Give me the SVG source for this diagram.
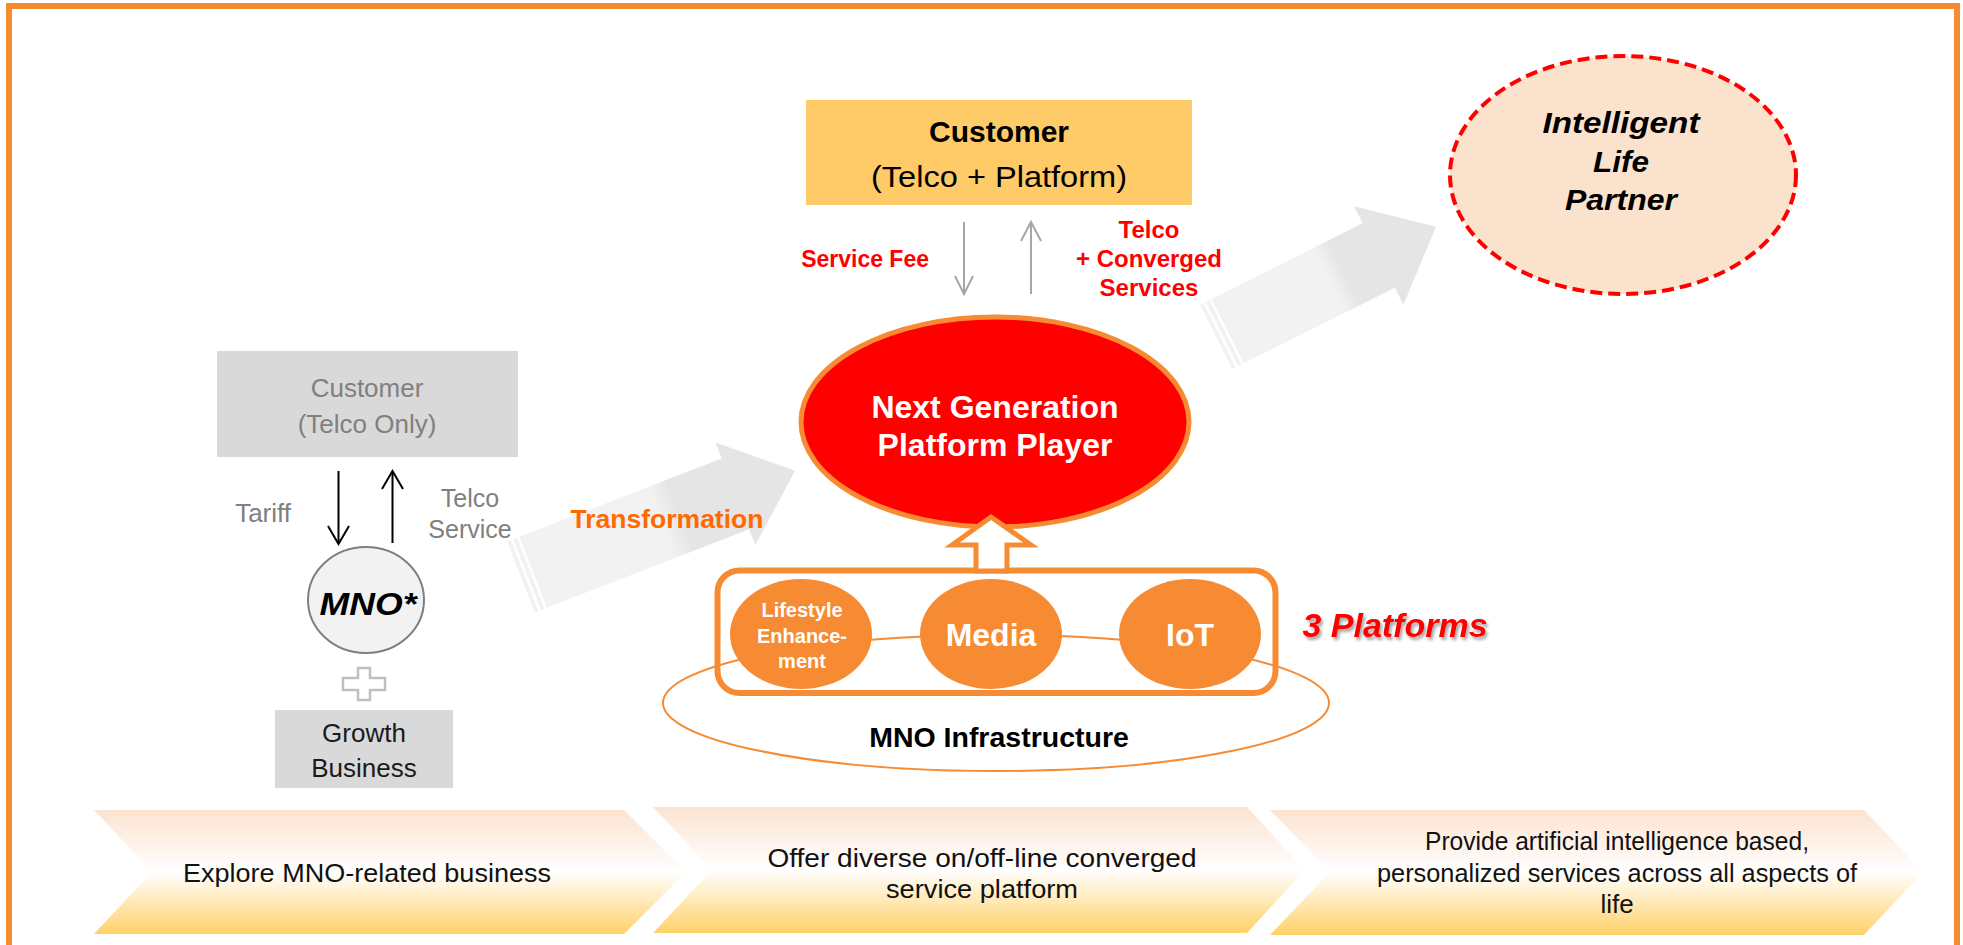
<svg xmlns="http://www.w3.org/2000/svg" width="1963" height="945" viewBox="0 0 1963 945">
<defs>
<style>
text{font-family:'Liberation Sans',Arial,sans-serif;}
.b{font-weight:bold}
.i{font-style:italic}
.red{fill:#FF0000}
.gray{fill:#808080}
.wht{fill:#FFFFFF}
.mid{text-anchor:middle}
.end{text-anchor:end}
.plat{fill:#F68B33}
.box{fill:#D9D9D9}
.chev{fill:url(#chevGrad)}
.ct{fill:#111111;font-size:26px;text-anchor:middle}
.stripe{fill:#F2F2F2}
.thin{fill:none;stroke:#A6A6A6;stroke-width:2}
.blk{fill:none;stroke:#000000;stroke-width:2}
</style>
<linearGradient id="arrowGrad" x1="0" y1="0" x2="1" y2="0">
<stop offset="0" stop-color="#F2F2F2"/>
<stop offset="0.49" stop-color="#F2F2F2"/>
<stop offset="0.56" stop-color="#E5E5E5"/>
<stop offset="1" stop-color="#E5E5E5"/>
</linearGradient>
<linearGradient id="chevGrad" x1="0" y1="0" x2="0" y2="1">
<stop offset="0" stop-color="#FCE3D0"/>
<stop offset="0.5" stop-color="#FFFFFF"/>
<stop offset="1" stop-color="#FFD169"/>
</linearGradient>
<filter id="shadow" x="-10%" y="-30%" width="130%" height="170%">
<feDropShadow dx="2" dy="3" stdDeviation="1.5" flood-color="#000000" flood-opacity="0.35"/>
</filter>
</defs>
<rect x="0" y="0" width="1963" height="945" fill="#FFFFFF"/>
<rect id="frame" x="9" y="6" width="1948" height="1000" fill="none" stroke="#F68B33" stroke-width="6"/>

<g id="customer-platform">
<rect x="806" y="100" width="386" height="105" fill="#FFCA68"/>
<text x="999" y="142" class="b mid" font-size="30">Customer</text>
<text x="999" y="187" class="mid" font-size="30" textLength="256" lengthAdjust="spacingAndGlyphs">(Telco + Platform)</text>
</g>

<g id="intelligent-life-partner">
<ellipse cx="1623" cy="175" rx="173" ry="119" fill="#FBE2CC" stroke="#FF0000" stroke-width="4" stroke-dasharray="12 6"/>
<text x="1621" y="133" class="b i mid" font-size="30" textLength="157" lengthAdjust="spacingAndGlyphs">Intelligent</text>
<text x="1621" y="172" class="b i mid" font-size="30" textLength="56" lengthAdjust="spacingAndGlyphs">Life</text>
<text x="1621" y="210" class="b i mid" font-size="30" textLength="112" lengthAdjust="spacingAndGlyphs">Partner</text>
</g>

<g id="next-gen-player">
<ellipse cx="995" cy="422" rx="194" ry="105" fill="#FF0000" stroke="#F68B33" stroke-width="5"/>
<text x="995" y="418" class="b mid wht" font-size="32">Next Generation</text>
<text x="995" y="456" class="b mid wht" font-size="32">Platform Player</text>
</g>

<g id="customer-telco-only">
<rect x="217" y="351" width="301" height="106" class="box"/>
<text x="367" y="397" class="mid gray" font-size="26">Customer</text>
<text x="367" y="433" class="mid gray" font-size="26">(Telco Only)</text>
</g>

<g id="mno">
<ellipse cx="366" cy="600" rx="58" ry="53" fill="#F2F2F2" stroke="#7F7F7F" stroke-width="2"/>
<text x="368" y="615" class="b i mid" font-size="31" textLength="97" lengthAdjust="spacingAndGlyphs">MNO*</text>
</g>

<g id="plus">
<path d="M358,668 H370 V678 H385 V690 H370 V700 H358 V690 H343 V678 H358 Z" fill="#FFFFFF" stroke="#BFBFBF" stroke-width="2.5"/>
</g>

<g id="growth-business">
<rect x="275" y="710" width="178" height="78" class="box"/>
<text x="364" y="742" class="mid" font-size="26" fill="#1A1A1A">Growth</text>
<text x="364" y="777" class="mid" font-size="26" fill="#1A1A1A">Business</text>
</g>

<g id="mno-infrastructure">
<ellipse cx="996" cy="703" rx="333" ry="68" fill="none" stroke="#F68B33" stroke-width="2"/>
<text x="999" y="747" class="b mid" font-size="28.5">MNO Infrastructure</text>
</g>

<g id="platforms">
<rect x="717.5" y="570.5" width="558" height="122.5" rx="22" fill="none" stroke="#F68B33" stroke-width="6"/>
<text x="1395" y="637" class="b i mid red" font-size="34" filter="url(#shadow)">3 Platforms</text>
</g>

<g id="lifestyle">
<ellipse cx="801" cy="634" rx="71" ry="55" class="plat"/>
<text x="802" y="617" class="b mid wht" font-size="20">Lifestyle</text>
<text x="802" y="643" class="b mid wht" font-size="20">Enhance-</text>
<text x="802" y="668" class="b mid wht" font-size="20">ment</text>
</g>

<g id="media">
<ellipse cx="991" cy="634" rx="71" ry="55" class="plat"/>
<text x="991" y="646" class="b mid wht" font-size="32">Media</text>
</g>

<g id="iot">
<ellipse cx="1190" cy="634" rx="71" ry="55" class="plat"/>
<text x="1190" y="646" class="b mid wht" font-size="32">IoT</text>
</g>

<g id="stage-1">
<path d="M94,810 H624 L686,872 L624,934 H94 L152,872 Z" class="chev"/>
<text x="367" y="882" class="ct" textLength="368" lengthAdjust="spacingAndGlyphs">Explore MNO-related business</text>
</g>
<g id="stage-2">
<path d="M653,807 H1247 L1305,870 L1247,933 H653 L712,870 Z" class="chev"/>
<text x="982" y="867" class="ct" textLength="429" lengthAdjust="spacingAndGlyphs">Offer diverse on/off-line converged</text>
<text x="982" y="898" class="ct" textLength="192" lengthAdjust="spacingAndGlyphs">service platform</text>
</g>
<g id="stage-3">
<path d="M1270,810 H1864 L1923,872 L1864,935 H1270 L1330,872 Z" class="chev"/>
<text x="1617" y="850" class="ct" textLength="384" lengthAdjust="spacingAndGlyphs">Provide artificial intelligence based,</text>
<text x="1617" y="882" class="ct" textLength="480" lengthAdjust="spacingAndGlyphs">personalized services across all aspects of</text>
<text x="1617" y="913" class="ct">life</text>
</g>

<g id="connectors">
<g id="arrow-transformation" transform="translate(521,577) rotate(-21.2)">
<rect x="0" y="-38" width="4" height="76" class="stripe"/>
<rect x="6.5" y="-38" width="4" height="76" class="stripe"/>
<path d="M13,-38 H230 V-55 L294,0 L230,55 V38 H13 Z" fill="url(#arrowGrad)"/>
</g>
<text x="667" y="528" class="b mid" font-size="26.5" fill="#FF6A00">Transformation</text>
<g id="arrow-intelligent" transform="translate(1216,337) rotate(-26.6)">
<rect x="0" y="-36" width="4" height="72" class="stripe"/>
<rect x="6.5" y="-36" width="4" height="72" class="stripe"/>
<path d="M13,-36 H182 V-55 L246,0 L182,55 V36 H13 Z" fill="url(#arrowGrad)"/>
</g>
<g id="service-fee">
<line x1="964" y1="222" x2="964" y2="293" class="thin"/>
<polyline points="955,276 964,294 973,276" class="thin"/>
<text x="929" y="267" class="b end red" font-size="23">Service Fee</text>
</g>
<g id="converged-services">
<line x1="1031" y1="294" x2="1031" y2="223" class="thin"/>
<polyline points="1021,241 1031,222 1041,241" class="thin"/>
<text x="1149" y="238" class="b mid red" font-size="24">Telco</text>
<text x="1149" y="267" class="b mid red" font-size="24">+ Converged</text>
<text x="1149" y="296" class="b mid red" font-size="24">Services</text>
</g>
<g id="tariff">
<line x1="338.5" y1="471" x2="338.5" y2="543" class="blk"/>
<polyline points="328,526 338.5,544 349,526" class="blk"/>
<text x="291" y="522" class="end gray" font-size="26">Tariff</text>
</g>
<g id="telco-service">
<line x1="392.5" y1="543" x2="392.5" y2="472" class="blk"/>
<polyline points="382,489 392.5,471 403,489" class="blk"/>
<text x="470" y="507" class="mid gray" font-size="25">Telco</text>
<text x="470" y="538" class="mid gray" font-size="25">Service</text>
</g>
<path id="platforms-to-player" d="M991,517 L1031,545 H1007 V571 H976 V545 H952 Z" fill="#FFFFFF" stroke="#F68B33" stroke-width="5" stroke-linejoin="miter"/>
</g>
</svg>
